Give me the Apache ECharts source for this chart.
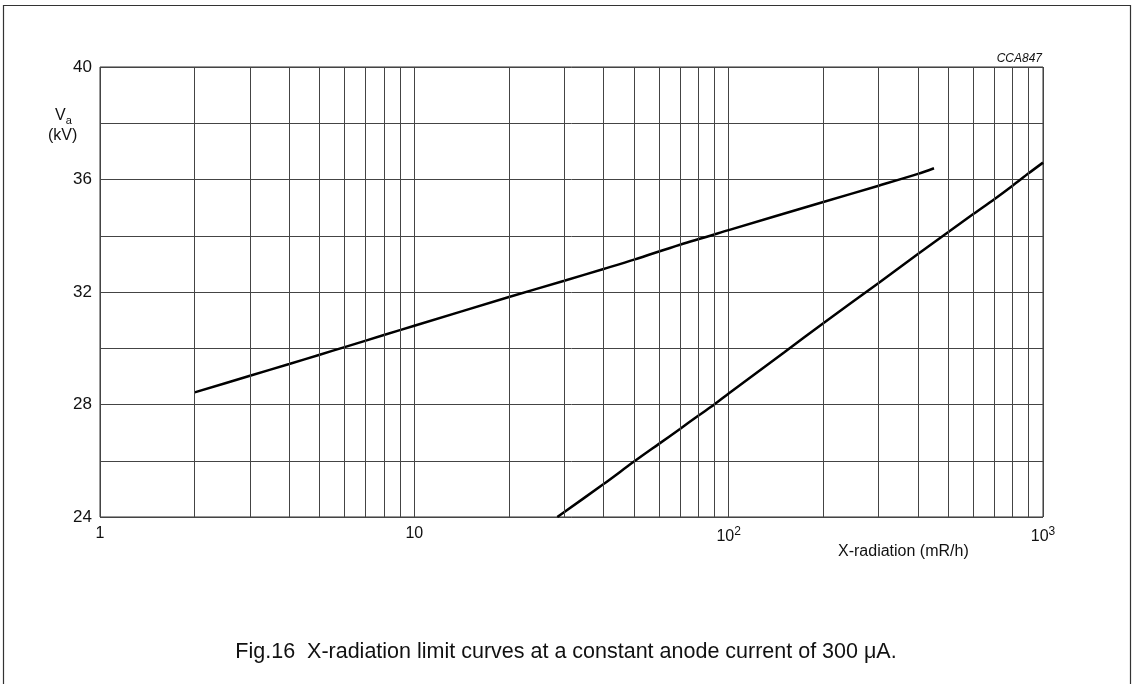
<!DOCTYPE html>
<html>
<head>
<meta charset="utf-8">
<script src="https://cdn.jsdelivr.net/npm/echarts@6/dist/echarts.min.js"></script>
<style>
html,body{margin:0;padding:0;background:#fff;}
#chart{width:1132px;height:684px;}
</style>
</head>
<body>
<div id="chart"></div>
<script>
// Curve 1 (upper, shallower)
const curve1X = [2, 3, 4, 5, 6, 8, 10, 20, 30, 40, 50, 70, 100, 200, 300, 400, 450];
const curve1Y = [28.43, 29.02, 29.44, 29.77, 30.04, 30.47, 30.8, 31.82, 32.40, 32.82, 33.15, 33.68, 34.2, 35.2, 35.78, 36.2, 36.40];
// Curve 2 (lower, steeper)
const curve2X = [28.5, 40, 50, 60, 70, 80, 90, 100, 150, 200, 300, 400, 500, 600, 700, 800, 900, 1000];
const curve2Y = [24.0, 25.17, 25.97, 26.6, 27.13, 27.6, 28.0, 28.39, 29.85, 30.89, 32.32, 33.35, 34.13, 34.77, 35.3, 35.78, 36.22, 36.6];
// Minor vertical grid values on the log axis
const minorGridX = [2,3,4,5,6,7,8,9,20,30,40,50,60,70,80,90,200,300,400,500,600,700,800,900];
// Tick labels
const xTickLabels = {1: '1', 10: '10', 100: '10{sup|2}', 1000: '10{sup|3}'};
const yLabeled = [24, 28, 32, 36, 40];

const FONT = 'Liberation Sans, Arial, Helvetica, sans-serif';
const chart = echarts.init(document.getElementById('chart'), null, {renderer: 'canvas'});

const pts = (xs, ys) => xs.map((x, i) => [x, ys[i]]);

chart.setOption({
  animation: false,
  backgroundColor: '#fff',
  grid: {left: 100, right: 89, top: 67, bottom: 167, show: true, borderColor: '#333', borderWidth: 1},
  xAxis: {
    type: 'log', logBase: 10, min: 1, max: 1000,
    axisLine: {show: false}, axisTick: {show: false},
    splitLine: {show: true, lineStyle: {color: '#444', width: 1}},
    axisLabel: {
      show: true, margin: 9, color: '#111', fontFamily: FONT, fontSize: 16,
      formatter: v => xTickLabels[Math.round(v)] || '',
      rich: {sup: {fontSize: 12, verticalAlign: 'top', padding: [0, 0, 9, 0], fontFamily: FONT, color: '#111'}}
    }
  },
  yAxis: {
    type: 'value', min: 24, max: 40, interval: 2,
    axisLine: {show: false}, axisTick: {show: false},
    splitLine: {show: true, lineStyle: {color: '#444', width: 1}},
    axisLabel: {
      margin: 8, color: '#111', fontFamily: FONT, fontSize: 17,
      formatter: v => yLabeled.indexOf(v) >= 0 ? String(v) : ''
    }
  },
  series: [
    {
      type: 'line', data: [], silent: true,
      markLine: {
        silent: true, symbol: 'none', label: {show: false},
        lineStyle: {color: '#444', width: 1, type: 'solid'},
        data: minorGridX.map(v => ({xAxis: v}))
      }
    },
    {type: 'line', data: pts(curve1X, curve1Y), showSymbol: false, smooth: 0.3,
     lineStyle: {color: '#000', width: 2.5}},
    {type: 'line', data: pts(curve2X, curve2Y), showSymbol: false, smooth: 0.3,
     lineStyle: {color: '#000', width: 2.5}}
  ],
  graphic: [
    {type: 'rect', shape: {x: 3.5, y: 5.5, width: 1127, height: 700}, style: {fill: 'none', stroke: '#333', lineWidth: 1.2}, silent: true},
    {type: 'text', left: 55, top: 108, style: {text: '{v|V}{s|a}', rich: {v: {fontSize: 16, fontFamily: FONT, fill: '#111'}, s: {fontSize: 11, fontFamily: FONT, fill: '#111', padding: [9, 0, 0, 0]}}}},
    {type: 'text', left: 48, top: 128, style: {text: '(kV)', fontSize: 16, fontFamily: FONT, fill: '#111'}},
    {type: 'text', left: 838, top: 544, style: {text: 'X-radiation (mR/h)', fontSize: 16, fontFamily: FONT, fill: '#111'}},
    {type: 'text', right: 90, top: 53, style: {text: 'CCA847', fontSize: 12, fontStyle: 'italic', fontFamily: FONT, fill: '#111'}},
    {type: 'text', left: 'center', top: 641, style: {text: 'Fig.16  X-radiation limit curves at a constant anode current of 300 μA.', fontSize: 21.5, fontFamily: FONT, fill: '#111'}}
  ]
});
</script>
</body>
</html>
